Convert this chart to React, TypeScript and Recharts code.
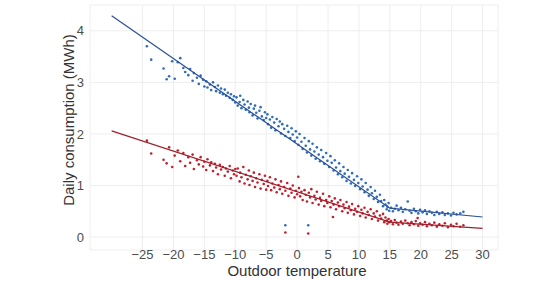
import { ScatterChart, Scatter, XAxis, YAxis, CartesianGrid, Label } from 'recharts';

// daily points: [outdoor temp, MWh]
const heatingPoints: [number, number][] = [
  [-24.3, 3.70], [-23.6, 3.44], [-21.6, 3.27], [-21.1, 3.06], [-20.7, 3.12], [-20.2, 3.41], [-19.8, 3.07],
  [-19.3, 3.39], [-18.9, 3.47], [-18.4, 3.28], [-18.1, 3.20], [-17.6, 3.14], [-17.3, 3.26], [-16.9, 3.03],
  [-16.7, 3.18], [-16.2, 3.09], [-15.9, 2.97], [-15.6, 3.13], [-15.2, 3.05], [-15.0, 2.92],
  [-14.7, 3.02], [-14.5, 2.90], [-14.1, 2.96], [-13.9, 2.85], [-13.6, 3.00], [-13.3, 2.91], [-13.1, 2.83],
  [-12.8, 2.94], [-12.5, 2.80], [-12.3, 2.88], [-12.0, 2.77], [-11.7, 2.86], [-11.5, 2.74], [-11.2, 2.80],
  [-10.9, 2.70], [-10.7, 2.77], [-10.4, 2.66], [-10.2, 2.73], [-10.0, 2.61],
  [-9.8, 2.71], [-9.6, 2.55], [-9.3, 2.62], [-9.2, 2.74], [-9.0, 2.50], [-8.7, 2.66], [-8.5, 2.57],
  [-8.3, 2.47], [-8.0, 2.63], [-7.8, 2.51], [-7.7, 2.42], [-7.5, 2.58], [-7.2, 2.36], [-7.0, 2.49],
  [-6.8, 2.55], [-6.6, 2.41], [-6.4, 2.30], [-6.1, 2.45], [-5.9, 2.52], [-5.7, 2.34], [-5.4, 2.27],
  [-5.2, 2.42], [-5.0, 2.31],
  [-4.8, 2.38], [-4.7, 2.19], [-4.4, 2.28], [-4.2, 2.12], [-4.0, 2.33], [-3.7, 2.22], [-3.5, 2.07],
  [-3.3, 2.29], [-3.0, 2.15], [-2.8, 2.24], [-2.6, 2.01], [-2.4, 2.19], [-2.1, 2.10], [-1.9, 1.96],
  [-1.6, 2.16], [-1.4, 2.04], [-1.1, 1.92], [-0.9, 2.11], [-0.7, 1.99], [-0.4, 1.86], [-0.2, 2.05],
  [0.0, 1.93],
  [0.2, 1.79], [0.4, 2.00], [0.7, 1.85], [0.9, 1.71], [1.2, 1.92], [1.4, 1.77], [1.6, 1.64], [1.9, 1.86],
  [2.1, 1.70], [2.3, 1.58], [2.5, 1.81], [2.8, 1.66], [3.0, 1.52], [3.2, 1.74], [3.5, 1.60], [3.7, 1.47],
  [3.9, 1.69], [4.2, 1.55], [4.4, 1.42], [4.7, 1.63], [4.9, 1.48],
  [5.2, 1.36], [5.4, 1.57], [5.6, 1.44], [5.9, 1.29], [6.1, 1.49], [6.3, 1.35], [6.6, 1.22], [6.8, 1.43],
  [7.0, 1.28], [7.3, 1.16], [7.5, 1.36], [7.7, 1.23], [8.0, 1.09], [8.2, 1.30], [8.4, 1.17], [8.7, 1.04],
  [8.9, 1.24], [9.2, 1.11], [9.4, 0.99], [9.7, 1.18], [9.9, 1.05],
  [10.2, 0.93], [10.4, 1.12], [10.6, 0.98], [10.9, 0.87], [11.1, 1.05], [11.4, 0.92], [11.6, 0.80],
  [11.9, 0.97], [12.1, 0.85], [12.4, 0.74], [12.6, 0.90], [12.9, 0.78], [13.1, 0.68], [13.4, 0.82],
  [13.6, 0.70], [13.9, 0.60], [14.1, 0.72], [14.3, 0.63], [14.5, 0.54], [14.6, 0.59], [14.8, 0.66],
  [14.9, 0.51],
  [15.2, 0.57], [15.5, 0.50], [15.8, 0.55], [16.1, 0.61], [16.4, 0.52], [16.8, 0.57], [17.1, 0.49],
  [17.5, 0.54], [17.9, 0.69], [18.2, 0.51], [18.5, 0.47], [18.9, 0.55], [19.2, 0.50], [19.6, 0.46],
  [19.9, 0.53], [20.3, 0.48], [20.7, 0.52], [21.0, 0.45], [21.4, 0.50], [21.8, 0.47], [22.2, 0.43],
  [22.6, 0.49], [23.0, 0.45], [23.5, 0.48], [23.9, 0.43], [24.4, 0.46], [24.9, 0.42], [25.3, 0.47],
  [25.8, 0.44], [26.4, 0.46], [26.9, 0.49],
  [-1.9, 0.23], [1.8, 0.23],
];

const otherPoints: [number, number][] = [
  [-24.3, 1.87], [-23.6, 1.62], [-21.6, 1.50], [-21.1, 1.43], [-20.7, 1.74], [-20.2, 1.36], [-19.8, 1.58],
  [-19.3, 1.68], [-18.9, 1.47], [-18.4, 1.63], [-18.1, 1.38], [-17.6, 1.55], [-17.3, 1.44], [-16.9, 1.60],
  [-16.7, 1.32], [-16.2, 1.49], [-15.9, 1.41], [-15.6, 1.55], [-15.2, 1.37], [-15.0, 1.46],
  [-14.7, 1.30], [-14.5, 1.51], [-14.1, 1.39], [-13.9, 1.45], [-13.6, 1.28], [-13.3, 1.42], [-13.1, 1.35],
  [-12.8, 1.22], [-12.5, 1.40], [-12.3, 1.31], [-12.0, 1.36], [-11.7, 1.19], [-11.5, 1.33], [-11.2, 1.27],
  [-10.9, 1.38], [-10.7, 1.14], [-10.4, 1.29], [-10.2, 1.22], [-10.0, 1.32],
  [-9.8, 1.19], [-9.6, 1.33], [-9.3, 1.08], [-9.2, 1.25], [-9.0, 1.16], [-8.7, 1.36], [-8.5, 1.04],
  [-8.3, 1.21], [-8.0, 1.12], [-7.8, 1.29], [-7.7, 1.01], [-7.5, 1.18], [-7.2, 1.09], [-7.0, 1.25],
  [-6.8, 0.97], [-6.6, 1.14], [-6.4, 1.06], [-6.1, 1.22], [-5.9, 0.94], [-5.7, 1.11], [-5.4, 1.03],
  [-5.2, 1.19], [-5.0, 0.92],
  [-4.8, 1.09], [-4.7, 0.99], [-4.4, 1.16], [-4.2, 0.91], [-4.0, 1.04], [-3.7, 0.96], [-3.5, 1.12],
  [-3.3, 0.87], [-3.0, 1.01], [-2.8, 0.93], [-2.6, 1.08], [-2.4, 0.84], [-2.1, 0.97], [-1.9, 0.90],
  [-1.6, 1.05], [-1.4, 0.80], [-1.1, 0.94], [-0.9, 0.86], [-0.7, 1.00], [-0.4, 0.77], [-0.2, 0.90],
  [0.0, 0.83],
  [0.2, 1.17], [0.3, 0.95], [0.5, 0.79], [0.7, 0.88], [0.9, 0.72], [1.2, 0.91], [1.4, 0.82], [1.6, 0.69],
  [1.9, 0.86], [2.1, 0.77], [2.3, 0.93], [2.5, 0.66], [2.8, 0.80], [3.0, 0.73], [3.2, 0.88], [3.5, 0.63],
  [3.7, 0.76], [3.9, 0.70], [4.2, 0.84], [4.4, 0.60], [4.7, 0.72], [4.9, 0.66],
  [5.2, 0.79], [5.4, 0.58], [5.6, 0.70], [5.8, 0.39], [5.9, 0.63], [6.1, 0.75], [6.3, 0.54], [6.6, 0.67],
  [6.8, 0.60], [7.0, 0.72], [7.3, 0.50], [7.5, 0.63], [7.7, 0.56], [8.0, 0.68], [8.2, 0.47], [8.4, 0.59],
  [8.7, 0.52], [8.9, 0.64], [9.2, 0.44], [9.4, 0.55], [9.7, 0.49], [9.9, 0.60],
  [10.2, 0.41], [10.4, 0.53], [10.6, 0.46], [10.9, 0.57], [11.1, 0.38], [11.4, 0.49], [11.6, 0.43],
  [11.9, 0.54], [12.1, 0.35], [12.4, 0.46], [12.6, 0.40], [12.9, 0.50], [13.1, 0.32], [13.4, 0.42],
  [13.6, 0.36], [13.9, 0.45], [14.1, 0.29], [14.3, 0.38], [14.5, 0.32], [14.6, 0.26], [14.8, 0.35],
  [14.9, 0.29],
  [15.2, 0.31], [15.5, 0.25], [15.8, 0.33], [16.1, 0.28], [16.4, 0.24], [16.8, 0.30], [17.1, 0.26],
  [17.5, 0.32], [17.9, 0.27], [18.2, 0.23], [18.5, 0.29], [18.9, 0.25], [19.2, 0.31], [19.5, 0.37],
  [19.6, 0.22], [19.9, 0.27], [20.3, 0.24], [20.7, 0.29], [21.0, 0.21], [21.4, 0.26], [21.8, 0.23],
  [22.2, 0.28], [22.6, 0.20], [23.0, 0.25], [23.5, 0.22], [23.9, 0.27], [24.4, 0.19], [24.9, 0.24],
  [25.3, 0.21], [25.8, 0.26], [26.4, 0.20], [26.9, 0.23],
  [-1.9, 0.09], [1.8, 0.07],
];

// fitted piecewise lines (breakpoint near 15 degrees)
const heatingFit: [number, number][] = [[-30, 4.29], [15, 0.56], [30, 0.39]];
const otherFit: [number, number][] = [[-30, 2.06], [15, 0.29], [30, 0.17]];

const xTicks = [-25, -20, -15, -10, -5, 0, 5, 10, 15, 20, 25, 30];
const yTicks = [0, 1, 2, 3, 4];

const toXY = (pts: [number, number][]) => pts.map(([x, y]) => ({ x, y }));

const font = '"Liberation Sans", Arial, sans-serif';

const dot = (color: string) => (props: any) => (
  <circle cx={props.cx} cy={props.cy} r={1.3} fill={color} />
);
const noDot = () => <g />;

export default function App() {
  return (
    <div style={{ position: 'absolute', left: 0, top: 0, background: '#fff' }}>
      <ScatterChart
        width={546}
        height={288}
        margin={{ top: 5, right: 48, bottom: 8, left: 0 }}
        style={{ fontFamily: font }}
      >
        <CartesianGrid stroke="#eeeeee" strokeWidth={1} />
        <XAxis
          type="number"
          dataKey="x"
          domain={[-33.5, 32.5]}
          ticks={xTicks}
          allowDataOverflow
          axisLine={false}
          tickLine={false}
          tickSize={0}
          tickMargin={0}
          height={30}
          tick={{ fontSize: 13, fill: '#4d4d4d' }}
          tickFormatter={(v: number) => String(v).replace('-', '\u2212')}
        >
          <Label
            content={() => (
              <text x={297} y={276} textAnchor="middle" fontSize={15} fill="#333" fontFamily={font}>
                Outdoor temperature
              </text>
            )}
          />
        </XAxis>
        <YAxis
          type="number"
          dataKey="y"
          domain={[-0.25, 4.5]}
          ticks={yTicks}
          allowDataOverflow
          axisLine={false}
          tickLine={false}
          tickSize={6}
          tickMargin={0}
          width={90}
          tick={{ fontSize: 13, fill: '#4d4d4d' }}
        >
          <Label
            content={() => (
              <text
                x={68}
                y={120}
                transform="rotate(-90 68 120)"
                textAnchor="middle"
                dominantBaseline="central"
                fontSize={15}
                fill="#333"
                fontFamily={font}
              >
                Daily consumption (MWh)
              </text>
            )}
          />
        </YAxis>
        <Scatter data={toXY(otherPoints)} shape={dot('#c0202e')} isAnimationActive={false} />
        <Scatter data={toXY(heatingPoints)} shape={dot('#2e6cb8')} isAnimationActive={false} />
        <Scatter
          data={toXY(otherFit)}
          line={{ stroke: '#9e1f2a', strokeWidth: 1.2 }}
          shape={noDot}
          isAnimationActive={false}
        />
        <Scatter
          data={toXY(heatingFit)}
          line={{ stroke: '#2b4f98', strokeWidth: 1.2 }}
          shape={noDot}
          isAnimationActive={false}
        />
      </ScatterChart>
    </div>
  );
}
